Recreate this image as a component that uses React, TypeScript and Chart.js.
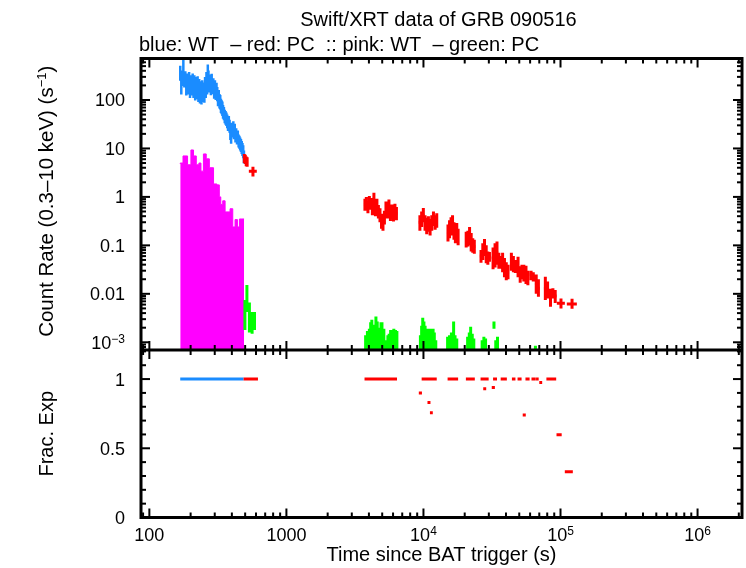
import React, { useEffect, useRef } from "react";
import { Chart, registerables } from "chart.js";

Chart.register(...registerables);

// ---------- text ----------
const TITLE = "Swift/XRT data of GRB 090516";
const SUBTITLE = "blue: WT  \u2013 red: PC  :: pink: WT  \u2013 green: PC";
const X_TITLE = "Time since BAT trigger (s)";
const Y_TITLE_PARTS: [string, boolean][] = [
  ["Count Rate (0.3\u201310 keV) (s", false],
  ["\u22121", true],
  [")", false],
];
const Y2_TITLE = "Frac. Exp";

// ---------- axis ranges & ticks ----------
const X_RANGE = [86.9, 2.11e6];
const Y_RANGE = [6.93e-4, 718];
const F_RANGE = [0, 1.21];

const X_TICK_VALUES = [100, 1000, 1e4, 1e5, 1e6];
const X_TICK_LABELS: [string, string][] = [["100", ""], ["1000", ""], ["10", "4"], ["10", "5"], ["10", "6"]];
const Y_TICK_VALUES = [100, 10, 1, 0.1, 0.01, 0.001];
const Y_TICK_LABELS: [string, string][] = [["100", ""], ["10", ""], ["1", ""], ["0.1", ""], ["0.01", ""], ["10", "\u22123"]];
const F_TICK_VALUES = [0, 0.5, 1];
const F_TICK_LABELS = ["0", "0.5", "1"];
const F_MINOR_VALUES = [0.1, 0.2, 0.3, 0.4, 0.6, 0.7, 0.8, 0.9, 1.1, 1.2];

// ---------- colours ----------
const BLUE = "#1a8cff";
const RED = "#ff0000";
const PINK = "#ff00ff";
const GREEN = "#00ff00";
const FONT = '"Liberation Sans", Arial, Helvetica, sans-serif';

// ---------- WT source (blue) ----------
const blueT = [168,171,174,177,180,183,186,189,192,195,198,201,204,207,210,213,216,219,222,225,228,231,234,237,240,243,246,249,252,255,258,261,264,267,270,273,
  277,281,285,289,293,297,301,305,309,313,317,321,325,329,333,337,341,345,
  350,355,360,365,370,375,380,385,390,395,400,405,410,415,420,425,430,
  436,442,448,454,460,466,472,478,484,490];
const blueR = [380,200,300,520,280,290,190,260,200,280,170,240,190,260,170,240,150,220,160,230,140,200,130,180,125,190,140,170,135,220,170,280,200,400,300,220,
  250,190,260,200,210,160,190,150,170,140,110,120,100,95,80,75,70,60,
  55,48,45,42,38,33,36,30,22,18,26,24,28,22,25,19,20,
  17,18,15,14,13,12,11,10,9,7];
const blueE = [130,70,105,180,98,100,66,90,70,98,60,84,66,90,60,84,52,77,56,80,49,70,45,63,44,66,49,60,47,77,60,98,70,140,105,77,
  85,65,88,68,70,54,64,50,56,46,36,40,33,31,26,24,23,19,
  17,15,14,13,12,10,11,9,7,5.5,8,7.2,8.4,6.6,7.5,5.7,6,
  5,5.4,4.5,4.2,3.9,3.6,3.3,3,2.7,2.1];

// ---------- PC source (red) ----------
const redT = [493,501,509,517,570,
  3740,3830,3934,4030,4137,4240,4350,4460,4575,4690,4816,4940,5065,5190,5326,5460,5600,5740,5890,6040,6195,6350,
  9420,9700,9980,10270,10560,10870,11180,11500,11830,12170,12500,
  15100,15500,15900,16300,16700,17100,17500,17900,
  20500,21100,21700,22300,22900,23500,
  26300,27100,27900,28700,29500,30300,
  32200,33300,34400,35500,36600,
  37800,39000,40200,41400,
  43800,45300,46800,
  49000,50800,52300,
  54000,56000,57800,
  61000,63300,
  66500,69000,
  77500,80500,
  84500,88000,91500,
  100800,121400];
const redTe = [5,5,5,5,38,
  60,62,65,65,68,70,72,75,75,78,80,80,82,85,88,88,90,92,95,95,98,100,
  180,180,185,190,195,200,205,210,215,220,225,
  260,260,260,260,260,260,260,260,
  380,380,380,380,380,380,
  500,500,500,500,500,500,
  700,700,700,700,700,
  750,750,750,750,
  900,900,900,
  1000,1000,1000,
  1100,1100,1100,
  1300,1300,
  1400,1400,
  1800,1800,
  2000,2000,2000,
  6800,10200];
const redR = [6.3,6.0,5.5,5.3,3.4,
  0.70,0.78,0.62,0.80,0.72,0.58,0.95,0.55,0.70,0.50,0.42,0.32,0.30,0.38,0.60,0.50,0.68,0.45,0.52,0.44,0.55,0.46,
  0.30,0.35,0.42,0.30,0.26,0.28,0.24,0.30,0.36,0.30,0.33,
  0.18,0.22,0.25,0.28,0.20,0.17,0.19,0.15,
  0.13,0.14,0.16,0.12,0.10,0.095,
  0.06,0.075,0.09,0.065,0.055,0.06,
  0.055,0.065,0.07,0.05,0.045,
  0.045,0.035,0.03,0.028,
  0.045,0.04,0.035,
  0.035,0.025,0.028,
  0.028,0.024,0.022,
  0.025,0.022,
  0.016,0.013,
  0.013,0.012,
  0.0095,0.011,0.009,
  0.0064,0.0062];
const redLo = [5.0,4.8,4.3,4.2,2.65,
  0.52,0.60,0.46,0.60,0.54,0.42,0.72,0.40,0.52,0.36,0.30,0.22,0.20,0.27,0.44,0.36,0.50,0.32,0.38,0.31,0.40,0.33,
  0.20,0.24,0.30,0.20,0.17,0.19,0.16,0.20,0.25,0.21,0.23,
  0.12,0.14,0.16,0.18,0.13,0.11,0.12,0.10,
  0.09,0.095,0.10,0.075,0.07,0.067,
  0.044,0.05,0.06,0.043,0.04,0.046,
  0.032,0.035,0.04,0.033,0.033,
  0.028,0.022,0.019,0.02,
  0.03,0.028,0.027,
  0.022,0.017,0.02,
  0.018,0.016,0.015,
  0.019,0.018,
  0.010,0.0087,
  0.0075,0.008,
  0.0054,0.008,0.0065,
  0.005,0.0049];
const redHi = [7.7,7.4,6.8,6.6,4.2,
  0.92,1.00,0.82,1.05,0.95,0.78,1.22,0.75,0.92,0.68,0.58,0.45,0.42,0.52,0.80,0.68,0.88,0.62,0.70,0.60,0.72,0.62,
  0.42,0.50,0.59,0.42,0.37,0.40,0.35,0.42,0.50,0.42,0.46,
  0.27,0.33,0.38,0.42,0.30,0.26,0.29,0.22,
  0.19,0.20,0.24,0.18,0.14,0.13,
  0.08,0.11,0.136,0.10,0.075,0.073,
  0.09,0.11,0.12,0.07,0.06,
  0.07,0.055,0.045,0.04,
  0.07,0.06,0.05,
  0.058,0.037,0.04,
  0.04,0.038,0.03,
  0.03,0.028,
  0.025,0.020,
  0.0225,0.018,
  0.0128,0.013,0.012,
  0.008,0.0079];

// ---------- WT background (pink) ----------
const pinkEdges = [168,176,190,201,210,220,230,238,248,260,274,294,311,324,332,343,357,388,406,422,439,454,467,491];
const pinkR = [4.8,5.0,7.0,4.6,9.3,7.0,4.6,5.0,3.4,7.7,6.1,4.0,1.85,1.77,1.0,0.7,0.83,0.49,0.57,0.24,0.34,0.24,0.35];

// ---------- PC background (green); lo = 0 means below the axis ----------
const greenT = [498,515,537,562,585,
  3784,3900,4030,4120,4200,4300,4390,4500,4600,4700,4790,4900,4980,5060,5140,5260,5380,5500,5620,5760,5910,6080,6250,6400,
  9500,9700,9880,10080,10280,10500,10700,10950,11250,11500,11760,12000,12300,
  15000,15500,16000,16600,17000,17500,
  21000,21600,22100,22700,23300,
  26800,27600,28400,
  32700,33700,34700,65600];
const greenTe = [5,6,6,8,10,
  45,50,50,45,45,50,50,55,50,50,50,55,40,40,50,60,60,60,60,70,70,80,80,70,
  120,100,90,100,100,110,110,130,150,120,130,120,150,
  250,250,250,300,200,250,
  300,300,250,300,300,
  400,400,400,
  600,500,500,600];
const greenR = [0.0035,0.011,0.0045,0.0028,0.0029,
  0.0008,0.0010,0.0011,0.0015,0.0017,0.0013,0.0013,0.0020,0.0016,0.0011,0.0011,0.0015,0.0015,0.0011,0.0011,0.0006,0.0006,0.0008,0.0009,0.0010,0.0010,0.0011,0.0010,0.0010,
  0.0008,0.0012,0.0019,0.0016,0.0013,0.0011,0.0010,0.0011,0.0011,0.0010,0.0011,0.0009,0.0006,
  0.0007,0.0008,0.0009,0.0016,0.0008,0.0007,
  0.0007,0.0009,0.0012,0.0008,0.0007,
  0.0006,0.0007,0.0007,
  0.0023,0.0006,0.0007,0.0005];
const greenLo = [0.0018,0.0042,0.0016,0.0015,0.0018,
  0,0,0,0,0,0,0,0,0,0,0,0,0,0,0,0,0,0,0,0,0,0,0,0,
  0,0,0,0,0,0,0,0,0,0,0,0,0,
  0,0,0,0,0,0,
  0,0,0,0,0,
  0,0,0,
  0.0019,0,0,0];
const greenHi = [0.0075,0.0152,0.0066,0.0042,0.0042,
  0.0014,0.0017,0.0019,0.0026,0.0029,0.0023,0.0023,0.0034,0.0027,0.0020,0.0020,0.0026,0.0026,0.0019,0.0019,0.0010,0.0011,0.0014,0.0015,0.0018,0.0018,0.0019,0.0018,0.0017,
  0.0014,0.0022,0.0032,0.0027,0.0022,0.0019,0.0017,0.0019,0.0019,0.0018,0.0019,0.0016,0.0011,
  0.0013,0.0014,0.0016,0.0027,0.0014,0.0012,
  0.0013,0.0016,0.0021,0.0015,0.0012,
  0.0011,0.0013,0.0012,
  0.0027,0.0011,0.0013,0.00085];

// ---------- fractional exposure ----------
const blueFracT0 = [168];
const blueFracT1 = [487];
const blueFracV = [1];
const redFracT0 = [487,3715,9700,15000,20400,26100,32200,36600,44200,48600,55500,61400,66300,78900,
  9250,10700,11150,27300,31500,53000,70000,93500,107500];
const redFracT1 = [620,6410,12500,17900,23700,29900,34400,40600,46900,52000,59500,66000,69300,93000,
  9750,11250,11700,28700,33200,55800,73500,102000,123000];
const redFracV = [1,1,1,1,1,1,1,1,1,1,1,1,1,1,
  0.90,0.83,0.757,0.93,0.94,0.74,0.975,0.597,0.33];

type Pt = { x: number; y: number | null };

function vSegs(ts: number[], lo: number[], hi: number[], floor: number): Pt[] {
  const out: Pt[] = [];
  ts.forEach((t, i) => {
    out.push({ x: t, y: Math.max(lo[i], floor) }, { x: t, y: Math.max(hi[i], floor) }, { x: t, y: null });
  });
  return out;
}
function hSegs(t0: number[], t1: number[], ys: number[], floor: number): Pt[] {
  const out: Pt[] = [];
  t0.forEach((a, i) => {
    if (ys[i] < floor) return;
    out.push({ x: a, y: ys[i] }, { x: t1[i], y: ys[i] }, { x: t1[i], y: null });
  });
  return out;
}

function logTicks(min: number, max: number) {
  const res: { v: number; major: boolean }[] = [];
  for (let e = Math.floor(Math.log10(min)); e <= Math.ceil(Math.log10(max)); e++) {
    for (let m = 1; m <= 9; m++) {
      const v = m * Math.pow(10, e);
      if (v >= min && v <= max) res.push({ v, major: m === 1 });
    }
  }
  return res;
}

function drawParts(ctx: CanvasRenderingContext2D, parts: [string, boolean][], x: number, y: number,
  align: "left" | "center" | "right", size: number, supSize: number, rise: number) {
  const fontOf = (sup: boolean) => `${sup ? supSize : size}px ${FONT}`;
  let total = 0;
  for (const [t, sup] of parts) { ctx.font = fontOf(sup); total += ctx.measureText(t).width; }
  let cx = align === "center" ? x - total / 2 : align === "right" ? x - total : x;
  ctx.textAlign = "left";
  ctx.textBaseline = "alphabetic";
  for (const [t, sup] of parts) {
    ctx.font = fontOf(sup);
    ctx.fillText(t, cx, sup ? y - rise : y);
    cx += ctx.measureText(t).width;
  }
}

const gnuplotFrame = {
  id: "gnuplotFrame",
  afterDraw(chart: any) {
    const ctx: CanvasRenderingContext2D = chart.ctx;
    const xs = chart.scales.x, ys = chart.scales.y, fs = chart.scales.y2;
    const ca = chart.chartArea;
    const sep = ys.bottom;
    const MAJ = 9, MIN = 5;
    ctx.save();
    ctx.strokeStyle = "#000";
    ctx.fillStyle = "#000";
    ctx.lineWidth = 2;
    const line = (a: number, b: number, c: number, d: number) => {
      ctx.beginPath(); ctx.moveTo(a, b); ctx.lineTo(c, d); ctx.stroke();
    };
    for (const { v, major } of logTicks(X_RANGE[0], X_RANGE[1])) {
      const px = xs.getPixelForValue(v);
      const len = major ? MAJ : MIN;
      line(px, ca.bottom, px, ca.bottom - len);
      line(px, sep, px, sep + len);
      line(px, sep, px, sep - len);
      line(px, ca.top, px, ca.top + len);
    }
    for (const { v, major } of logTicks(Y_RANGE[0], Y_RANGE[1])) {
      const py = ys.getPixelForValue(v);
      const len = major ? MAJ : MIN;
      line(ca.left, py, ca.left + len, py);
      line(ca.right, py, ca.right - len, py);
    }
    const fTicks = [...F_TICK_VALUES.map((v) => ({ v, major: true })), ...F_MINOR_VALUES.map((v) => ({ v, major: false }))];
    for (const { v, major } of fTicks) {
      const py = fs.getPixelForValue(v);
      const len = major ? MAJ : MIN;
      line(ca.left, py, ca.left + len, py);
      line(ca.right, py, ca.right - len, py);
    }
    ctx.lineWidth = 3;
    ctx.strokeRect(ca.left, ca.top, ca.right - ca.left, ca.bottom - ca.top);
    line(ca.left, sep, ca.right, sep);

    // tick labels
    X_TICK_VALUES.forEach((v, i) => {
      const [b, s] = X_TICK_LABELS[i];
      const parts: [string, boolean][] = s ? [[b, false], [s, true]] : [[b, false]];
      drawParts(ctx, parts, xs.getPixelForValue(v), 541, "center", 18, 12, 6);
    });
    Y_TICK_VALUES.forEach((v, i) => {
      const [b, s] = Y_TICK_LABELS[i];
      const parts: [string, boolean][] = s ? [[b, false], [s, true]] : [[b, false]];
      drawParts(ctx, parts, 125, ys.getPixelForValue(v) + 6.5, "right", 18, 12, 6);
    });
    F_TICK_VALUES.forEach((v, i) => {
      drawParts(ctx, [[F_TICK_LABELS[i], false]], 125, fs.getPixelForValue(v) + 6.5, "right", 18, 12, 6);
    });

    // titles
    const midX = (ca.left + ca.right) / 2;
    drawParts(ctx, [[TITLE, false]], midX - 3, 26, "center", 20, 13, 7);
    drawParts(ctx, [[SUBTITLE, false]], 139, 51, "left", 20, 13, 7);
    drawParts(ctx, [[X_TITLE, false]], midX, 561, "center", 20, 13, 7);

    ctx.save();
    ctx.translate(46, (ca.top + sep) / 2 - 3);
    ctx.rotate(-Math.PI / 2);
    drawParts(ctx, Y_TITLE_PARTS, 0, 7, "center", 20.5, 13, 7);
    ctx.restore();
    ctx.save();
    ctx.translate(46, (sep + ca.bottom) / 2);
    ctx.rotate(-Math.PI / 2);
    drawParts(ctx, [[Y2_TITLE, false]], 0, 7, "center", 20, 13, 7);
    ctx.restore();

    ctx.restore();
  },
};

export default function App() {
  const ref = useRef<HTMLCanvasElement>(null);
  useEffect(() => {
    const yMin = Y_RANGE[0];
    const lineDs = (data: Pt[], color: string, width: number, yAxisID: string, order: number) => ({
      type: "line" as const,
      data,
      borderColor: color,
      backgroundColor: color,
      borderWidth: width,
      pointRadius: 0,
      fill: false,
      spanGaps: false,
      tension: 0,
      borderCapStyle: "butt" as const,
      xAxisID: "x",
      yAxisID,
      order,
    });

    const pinkPts: Pt[] = pinkEdges.map((e, i) => ({ x: e, y: pinkR[Math.min(i, pinkR.length - 1)] }));

    const datasets: any[] = [
      {
        type: "line",
        data: pinkPts,
        stepped: "after",
        fill: "start",
        borderColor: PINK,
        backgroundColor: PINK,
        borderWidth: 1,
        pointRadius: 0,
        xAxisID: "x",
        yAxisID: "y",
        order: 5,
      },
      lineDs(vSegs(greenT, greenLo, greenHi, yMin), GREEN, 3, "y", 4),
      lineDs(hSegs(greenT.map((t, i) => t - greenTe[i]), greenT.map((t, i) => t + greenTe[i]), greenR, yMin), GREEN, 2, "y", 4),
      lineDs(vSegs(blueT, blueR.map((r, i) => r - blueE[i]), blueR.map((r, i) => r + blueE[i]), yMin), BLUE, 2.5, "y", 3),
      lineDs(vSegs(redT, redLo, redHi, yMin), RED, 3, "y", 1),
      lineDs(hSegs(redT.map((t, i) => t - redTe[i]), redT.map((t, i) => t + redTe[i]), redR, yMin), RED, 3, "y", 1),
      lineDs(hSegs(blueFracT0, blueFracT1, blueFracV, -1), BLUE, 3, "y2", 2),
      lineDs(hSegs(redFracT0, redFracT1, redFracV, -1), RED, 3, "y2", 1),
    ];

    const chart = new Chart(ref.current as HTMLCanvasElement, {
      type: "line",
      data: { datasets },
      options: {
        responsive: false,
        animation: false,
        devicePixelRatio: 1,
        events: [],
        layout: { padding: { left: 141, right: 4, top: 58.5, bottom: 50.5 } },
        plugins: { legend: { display: false }, tooltip: { enabled: false }, title: { display: false } },
        scales: {
          x: { type: "logarithmic", min: X_RANGE[0], max: X_RANGE[1], display: false, bounds: "data" },
          y: {
            type: "logarithmic", min: Y_RANGE[0], max: Y_RANGE[1], display: false, bounds: "data",
            position: "left", stack: "panels", stackWeight: 291.5, weight: 2,
          },
          y2: {
            type: "linear", min: F_RANGE[0], max: F_RANGE[1], display: false, bounds: "data",
            position: "left", stack: "panels", stackWeight: 167.5, weight: 1,
          },
        },
      } as any,
      plugins: [gnuplotFrame],
    });
    return () => chart.destroy();
  }, []);

  return (
    <div style={{ position: "absolute", left: 0, top: 0, width: 746, height: 568, background: "#fff" }}>
      <canvas ref={ref} width={746} height={568} style={{ display: "block", width: 746, height: 568 }} />
    </div>
  );
}
